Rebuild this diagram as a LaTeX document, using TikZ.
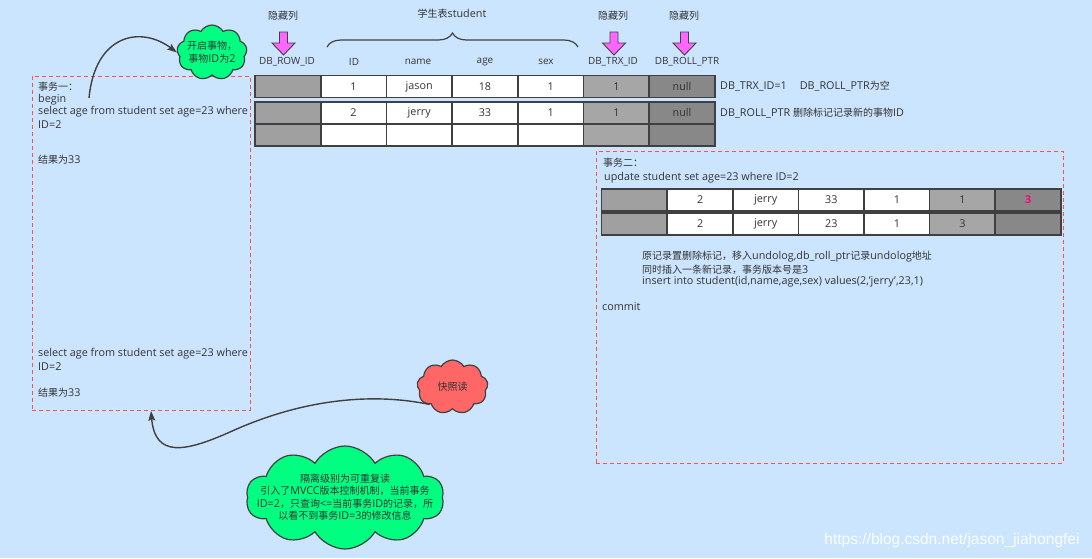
\documentclass[tikz,border=0pt]{standalone}
\usepackage{fontspec}
\setmainfont{Open Sans}[Scale=1.08]
\newfontfamily\cjkf{Noto Sans CJK SC}
\newfontfamily\wmfont{Liberation Sans}
\newcommand\zh[1]{{\cjkf #1}}
\usetikzlibrary{shapes.symbols,arrows.meta,decorations.pathreplacing}
\definecolor{bg}{RGB}{204,229,255}
\definecolor{txt}{RGB}{51,51,51}
\definecolor{edge}{RGB}{64,64,64}
\definecolor{gA}{RGB}{160,160,160}
\definecolor{gB}{RGB}{166,166,166}
\definecolor{gC}{RGB}{136,136,136}
\definecolor{mint}{RGB}{0,255,128}
\definecolor{salmon}{RGB}{255,102,102}
\definecolor{pinkarrow}{RGB}{255,102,255}
\definecolor{dashred}{RGB}{255,80,80}
\definecolor{hot}{RGB}{255,0,128}
\begin{document}
\begin{tikzpicture}[x=1pt,y=-1pt,font=\fontsize{10}{12.5}\selectfont,text=txt,
  cellbase/.style={draw=edge,line width=1.6pt,minimum width=65.7pt,minimum height=22pt,inner sep=0pt,anchor=center},
  wcell/.style={cellbase,fill=white},
  gcellA/.style={cellbase,fill=gA},
  gcellB/.style={cellbase,fill=gB},
  gcellC/.style={cellbase,fill=gC},
  lbl/.style={anchor=west,inner sep=0pt},
  clbl/.style={inner sep=0pt,anchor=center},
  hdr/.style={clbl,font=\fontsize{9.2}{11}\selectfont},
  dbox/.style={draw=dashred,dash pattern=on 4pt off 3pt,line width=0.9pt,inner sep=0pt,anchor=north west},
  cloudbox/.style={cloud,cloud puffs=9,cloud puff arc=120,cloud ignores aspect,draw=edge,line width=1.2pt,inner sep=0pt},
  conn/.style={draw=edge,line width=1.4pt,-{Stealth[length=10pt,width=7pt,inset=2pt]}},
  pinkdown/.style={fill=pinkarrow,draw=edge,line width=0.9pt,line join=miter}
]
\fill[bg] (0,0) rectangle (1092,558);
\useasboundingbox (0,0) rectangle (1092,558);

% dashed transaction boxes
\node[dbox,minimum width=218pt,minimum height=334pt] (box1) at (32,76) {};
\node[dbox,minimum width=467pt,minimum height=312pt] (box2) at (596,151) {};

% header labels
\node[clbl] (h1) at (283,16) {\zh{隐藏列}};
\node[clbl] (h2) at (613,16) {\zh{隐藏列}};
\node[clbl] (h3) at (684,16) {\zh{隐藏列}};
\node[clbl] (hs) at (452,14) {\zh{学生表}student};
\draw[decorate,decoration={brace,amplitude=14pt},draw=edge,line width=1.2pt] (327,47) -- (578,47);
\foreach \ax in {283.5,614,684.5}{
  \filldraw[pinkdown] (\ax-4,32) -- (\ax+4,32) -- (\ax+4,43) -- (\ax+11.5,43) -- (\ax,55) -- (\ax-11.5,43) -- (\ax-4,43) -- cycle;
}
\node[hdr] (k1) at (287,62) {DB\_ROW\_ID};
\node[hdr] (k2) at (354,62) {ID};
\node[hdr] (k3) at (418,62) {name};
\node[hdr] (k4) at (485,62) {age};
\node[hdr] (k5) at (546,62) {sex};
\node[hdr] (k6) at (613,62) {DB\_TRX\_ID};
\node[hdr] (k7) at (687,62) {DB\_ROLL\_PTR};

% main table
\node[gcellA] (a1) at (287.85,86.5) {};
\node[wcell]  (a2) at (353.55,86.5) {1};
\node[wcell]  (a3) at (419.25,86.5) {jason};
\node[wcell]  (a4) at (484.95,86.5) {18};
\node[wcell]  (a5) at (550.65,86.5) {1};
\node[gcellB] (a6) at (616.35,86.5) {1};
\node[gcellC] (a7) at (682.05,86.5) {null};

\node[gcellA] (b1) at (287.85,112.8) {};
\node[wcell]  (b2) at (353.55,112.8) {2};
\node[wcell]  (b3) at (419.25,112.8) {jerry};
\node[wcell]  (b4) at (484.95,112.8) {33};
\node[wcell]  (b5) at (550.65,112.8) {1};
\node[gcellB] (b6) at (616.35,112.8) {1};
\node[gcellC] (b7) at (682.05,112.8) {null};

\node[gcellA] (c1c) at (287.85,134.8) {};
\node[wcell]  (c2c) at (353.55,134.8) {};
\node[wcell]  (c3c) at (419.25,134.8) {};
\node[wcell]  (c4c) at (484.95,134.8) {};
\node[wcell]  (c5c) at (550.65,134.8) {};
\node[gcellB] (c6c) at (616.35,134.8) {};
\node[gcellC] (c7c) at (682.05,134.8) {};

\node[lbl] (n1) at (720,86) {DB\_TRX\_ID=1\hspace{1.2em}DB\_ROLL\_PTR\zh{为空}};
\node[lbl] (n2) at (720,113) {DB\_ROLL\_PTR \zh{删除标记记录新的事物}ID};

% transaction 1 text
\node[lbl] (t1a) at (38,87) {\zh{事务一：}};
\node[lbl] (t1b) at (38,99.5) {begin};
\node[lbl] (t1c) at (38,112) {select age from student set age=23 where};
\node[lbl] (t1d) at (38,125) {ID=2};
\node[lbl] (t1e) at (38,160) {\zh{结果为}33};
\node[lbl] (t1f) at (38,354) {select age from student set age=23 where};
\node[lbl] (t1g) at (38,367) {ID=2};
\node[lbl] (t1h) at (38,393) {\zh{结果为}33};

% transaction 2
\node[lbl] (t2a) at (603,163) {\zh{事务二：}};
\node[lbl] (t2b) at (604,178) {update student set age=23 where ID=2};

\node[gcellA] (d1) at (634.5,200) {};
\node[wcell]  (d2) at (700.1,200) {2};
\node[wcell]  (d3) at (765.7,200) {jerry};
\node[wcell]  (d4) at (831.3,200) {33};
\node[wcell]  (d5) at (896.9,200) {1};
\node[gcellB] (d6) at (962.5,200) {1};
\node[gcellC] (d7) at (1028.1,200) {\textcolor{hot}{\bfseries 3}};

\node[gcellA] (e1) at (634.5,224) {};
\node[wcell]  (e2) at (700.1,224) {2};
\node[wcell]  (e3) at (765.7,224) {jerry};
\node[wcell]  (e4) at (831.3,224) {23};
\node[wcell]  (e5) at (896.9,224) {1};
\node[gcellB] (e6) at (962.5,224) {3};
\node[gcellC] (e7) at (1028.1,224) {};

\node[lbl] (t2c) at (642,257) {\zh{原记录置删除标记，移入}undolog,db\_roll\_ptr\zh{记录}undolog\zh{地址}};
\node[lbl] (t2d) at (642,269.5) {\zh{同时插入一条新记录，事务版本号是}3};
\node[lbl] (t2e) at (642,282) {insert into student(id,name,age,sex) values(2,'jerry',23,1)};
\node[lbl] (t2f) at (602,307) {commit};

% clouds
\node[cloudbox,fill=mint,minimum width=70pt,minimum height=55pt] (cl1) at (212,52.5) {};
\node[clbl,align=center] (cl1t) at (212,52) {\zh{开启事物，}\\\zh{事物}ID\zh{为}2};
\node[cloudbox,fill=salmon,minimum width=71pt,minimum height=54pt] (cl2) at (452.5,387) {};
\node[clbl] (cl2t) at (452.5,387) {\zh{快照读}};
\node[cloudbox,cloud puffs=10,fill=mint,minimum width=198pt,minimum height=103pt] (cl3) at (345,497.5) {};
\node[clbl,align=center] (cl3t) at (345,497) {\zh{隔离级别为可重复读}\\\zh{引入了}MVCC\zh{版本控制机制，当前事务}\\ID=2\zh{，只查询}<=\zh{当前事务}ID\zh{的记录，所}\\\zh{以看不到事务}ID=3\zh{的修改信息}};

% connectors
\coordinate (s1) at (89,98);
\draw[conn] (s1) .. controls (95,35) and (140,25) .. (cl1.west);
\coordinate (bend) at (230,432);
\draw[conn] (cl2.south west) .. controls (370,392) and (300,400) .. (bend) .. controls (185,452) and (155,458) .. ([xshift=119pt]box1.south west);

% watermark
\node[clbl,text=white,font=\wmfont\fontsize{15.5}{17}\selectfont,opacity=0.9] (wm) at (952,540) {https://blog.csdn.net/jason\_jiahongfei};
\end{tikzpicture}
\end{document}
